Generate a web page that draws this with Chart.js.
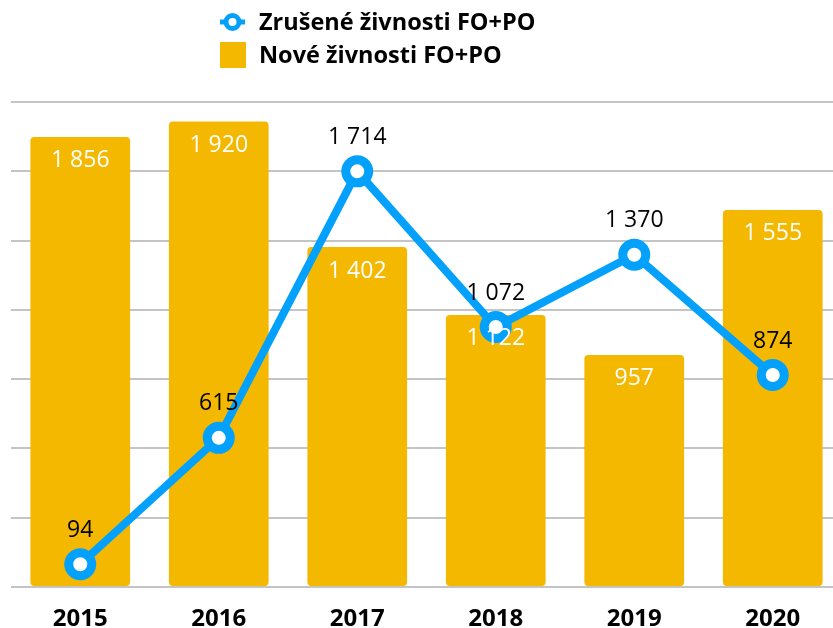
<!DOCTYPE html>
<html>
<head>
<meta charset="utf-8">
<script src="https://cdn.jsdelivr.net/npm/chart.js@4.4.0/dist/chart.umd.min.js"></script>
<style>
  body { margin: 0; background: #fff; overflow: hidden; }
  #clip { width: 833px; height: 628px; overflow: hidden; }
  canvas { display: block; }
</style>
</head>
<body>
<div id="clip"><canvas id="myChart" width="842" height="628"></canvas></div>
<script>
const years = ["2015", "2016", "2017", "2018", "2019", "2020"];
const zrusene = [94, 615, 1714, 1072, 1370, 874];
const nove = [1856, 1920, 1402, 1122, 957, 1555];

const BLUE = "#03a1fc";
const YELLOW = "#f5b800";
const FONT = "'Open Sans', 'Noto Sans', sans-serif";

function fmt(v) {
	return String(v).replace(/\B(?=(\d{3})+(?!\d))/g, " ");
}

// value labels + legend drawn by hand
const labelsPlugin = {
	id: "labels",
	afterDatasetsDraw(chart) {
		const ctx = chart.ctx;
		ctx.save();
		ctx.textAlign = "center";
		ctx.textBaseline = "middle";
		ctx.font = "23px " + FONT;

		ctx.fillStyle = "#fff";
		chart.getDatasetMeta(1).data.forEach((bar, i) => {
			ctx.fillText(fmt(nove[i]), bar.x, bar.y + 24);
		});

		ctx.fillStyle = "#000";
		chart.getDatasetMeta(0).data.forEach((pt, i) => {
			ctx.fillText(fmt(zrusene[i]), pt.x, pt.y - 34);
		});

		// legend
		ctx.textAlign = "left";
		ctx.font = "bold 23.5px " + FONT;
		ctx.strokeStyle = BLUE;
		ctx.lineWidth = 5;
		ctx.beginPath();
		ctx.moveTo(220, 22);
		ctx.lineTo(245, 22);
		ctx.stroke();
		ctx.beginPath();
		ctx.arc(232.5, 22, 6.5, 0, Math.PI * 2);
		ctx.fillStyle = "#fff";
		ctx.fill();
		ctx.stroke();
		ctx.fillStyle = "#000";
		ctx.fillText("Zrušené živnosti FO+PO", 259, 23);

		ctx.fillStyle = YELLOW;
		ctx.fillRect(220, 42, 26, 26);
		ctx.fillStyle = "#000";
		ctx.fillText("Nové živnosti FO+PO", 259, 56);
		ctx.restore();
	}
};

new Chart(document.getElementById("myChart").getContext("2d"), {
	data: {
		labels: years,
		datasets: [{
			type: "line",
			label: "Zrušené živnosti FO+PO",
			data: zrusene,
			borderColor: BLUE,
			borderWidth: 8,
			pointRadius: 11.5,
			pointHoverRadius: 11.5,
			pointBorderWidth: 9,
			pointBackgroundColor: "#fff",
			pointBorderColor: BLUE,
			tension: 0,
			order: 0
		}, {
			type: "bar",
			label: "Nové živnosti FO+PO",
			data: nove,
			backgroundColor: YELLOW,
			borderRadius: 4,
			borderSkipped: false,
			categoryPercentage: 0.8,
			barPercentage: 0.9,
			order: 1
		}]
	},
	options: {
		responsive: false,
		animation: false,
		layout: { autoPadding: false, padding: { top: 102, left: 11, right: 0, bottom: 0 } },
		plugins: {
			legend: { display: false },
			tooltip: { enabled: false }
		},
		scales: {
			x: {
				grid: { display: false, drawTicks: false },
				border: { display: false },
				ticks: {
					color: "#000",
					font: { family: FONT, size: 24, weight: "bold", lineHeight: 1 },
					padding: 20
				},
				afterFit(scale) { scale.height = 41; }
			},
			y: {
				min: 0,
				max: 2000,
				ticks: { display: false, count: 8 },
				grid: { color: "#c4c4c4", lineWidth: 2, drawTicks: false },
				border: { display: false }
			}
		}
	},
	plugins: [labelsPlugin]
});
</script>
</body>
</html>
